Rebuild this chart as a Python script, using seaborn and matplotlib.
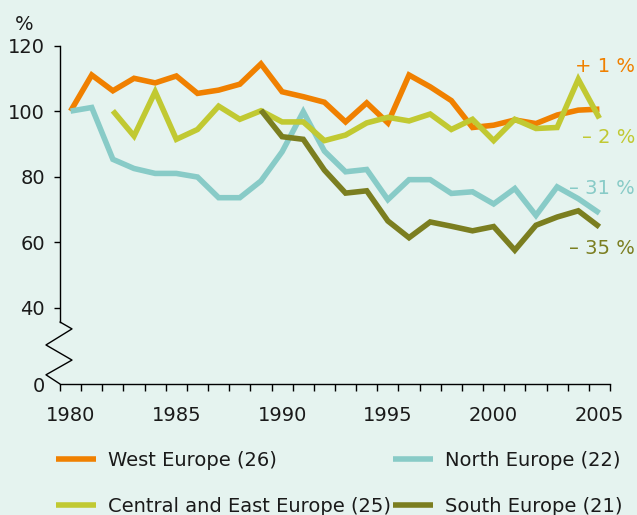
import numpy as np
import pandas as pd
import matplotlib
matplotlib.use("Agg")
import matplotlib.pyplot as plt
import matplotlib.transforms as mtransforms
from matplotlib.lines import Line2D
import seaborn as sns

# ---------------- data ----------------
years = list(range(1980, 2006))
west = [100, 111.0, 106.2, 110.0, 108.6, 110.7, 105.4, 106.4, 108.2, 114.4,
        105.9, 104.4, 102.7, 96.7, 102.5, 96.4, 111.0, 107.4, 103.2, 95.0,
        95.7, 97.3, 96.2, 98.8, 100.3, 100.6]
north = [100, 101.1, 85.3, 82.5, 81.0, 81.0, 79.9, 73.6, 73.6, 78.7,
         87.6, 99.8, 87.8, 81.5, 82.2, 73.0, 79.1, 79.1, 74.9, 75.4,
         71.7, 76.4, 68.2, 76.9, 73.3, 68.9]
central = [np.nan, np.nan, 100.1, 92.4, 105.9, 91.4, 94.4, 101.5, 97.5, 100.1,
           96.7, 96.7, 91.0, 92.7, 96.4, 98.1, 97.0, 99.1, 94.4, 97.5,
           91.0, 97.5, 94.7, 95.0, 109.7, 97.8]
south = [np.nan] * 9 + [100.3, 92.2, 91.4, 82.0, 75.0, 75.7, 66.5, 61.4, 66.2,
                        64.9, 63.5, 64.8, 57.6, 65.2, 67.7, 69.6, 64.7]

series_names = ["West Europe (26)", "North Europe (22)",
                "Central and East Europe (25)", "South Europe (21)"]
change_labels = ["+ 1 %", "\u2013 31 %", "\u2013 2 %", "\u2013 35 %"]
y_ticks = [40, 60, 80, 100, 120]
x_labels = [1980, 1985, 1990, 1995, 2000, 2005]

# ---------------- style ----------------
bg = "#e5f3ef"
colors = ["#f08000", "#88cbc7", "#c1c932", "#7b7e20"]
palette = dict(zip(series_names, colors))
txt = "#1a1a1a"
fs = 14

sns.set_theme(style="white")
plt.rcParams['font.family'] = ['DejaVu Sans']

df = pd.DataFrame({"year": years,
                   series_names[0]: west,
                   series_names[1]: north,
                   series_names[2]: central,
                   series_names[3]: south})
long = df.melt(id_vars="year", var_name="series", value_name="value").dropna()

fig = plt.figure(figsize=(6.37, 5.15), dpi=100, facecolor=bg)
ax = fig.add_axes([60 / 637, 1 - 384 / 515, 550 / 637, 338.5 / 515])
ax.set_facecolor(bg)

sns.lineplot(data=long, x="year", y="value", hue="series",
             hue_order=series_names, palette=palette, lw=4, ax=ax,
             legend=False, solid_capstyle="butt", solid_joinstyle="miter")

ybottom = 16.8
ax.set_xlim(1979.5, 2005.5)
ax.set_ylim(ybottom, 120)
ax.set_xlabel("")
ax.set_ylabel("")

# y ticks
ax.set_yticks([ybottom] + y_ticks, labels=["0"] + [str(v) for v in y_ticks])
ax.tick_params(axis="y", direction="out", length=4.3, width=1, color="black",
               labelsize=fs, labelcolor=txt, pad=6.5, left=True)
ax.yaxis.get_major_ticks()[0].tick1line.set_visible(False)

# x ticks: marks at year boundaries, labels at years
ax.set_xticks(np.arange(1979.5, 2006, 1.0))
ax.set_xticklabels([])
ax.set_xticks(x_labels, minor=True)
ax.set_xticklabels([str(v) for v in x_labels], minor=True)
ax.tick_params(axis="x", which="major", direction="out", length=5, width=1,
               color="black", bottom=True)
ax.tick_params(axis="x", which="minor", length=0, labelsize=fs,
               labelcolor=txt, pad=15.5, bottom=True)

# spines
for s in ["top", "right"]:
    ax.spines[s].set_visible(False)
for s in ["left", "bottom"]:
    ax.spines[s].set_color("black")
    ax.spines[s].set_linewidth(1)
ax.spines["left"].set_bounds(35.7, 120)

# axis break zigzag
trans = mtransforms.blended_transform_factory(ax.transAxes, ax.transData)
ax.plot([0, 0.0218, -0.0255, 0.0218, -0.0255, 0],
        [35.7, 33.6, 28.7, 24.1, 19.6, ybottom],
        transform=trans, clip_on=False, color="black", lw=1)

# unit label
fig.text(24 / 637, 1 - 24 / 515, "%", ha="center", va="center",
         fontsize=fs, color=txt)

# change annotations
ann_y = [66, 188, 137, 248]
for lab, yy, c in zip(change_labels, ann_y, colors):
    fig.text(635 / 637, 1 - yy / 515, lab, ha="right", va="center",
             fontsize=fs, color=c)

# legend
order = [0, 2, 1, 3]
handles = [Line2D([], [], color=colors[i], lw=4, solid_capstyle="butt") for i in order]
labels = [series_names[i] for i in order]
leg = fig.legend(handles, labels, ncol=2, loc="upper left",
                 bbox_to_anchor=(56 / 637, 1 - 451 / 515), frameon=False,
                 handlelength=2.06, handletextpad=0.62, columnspacing=0.1,
                 labelspacing=1.4, borderpad=0, borderaxespad=0,
                 fontsize=fs)
for t in leg.get_texts():
    t.set_color(txt)

fig.savefig("out.png", dpi=100, facecolor=bg)
